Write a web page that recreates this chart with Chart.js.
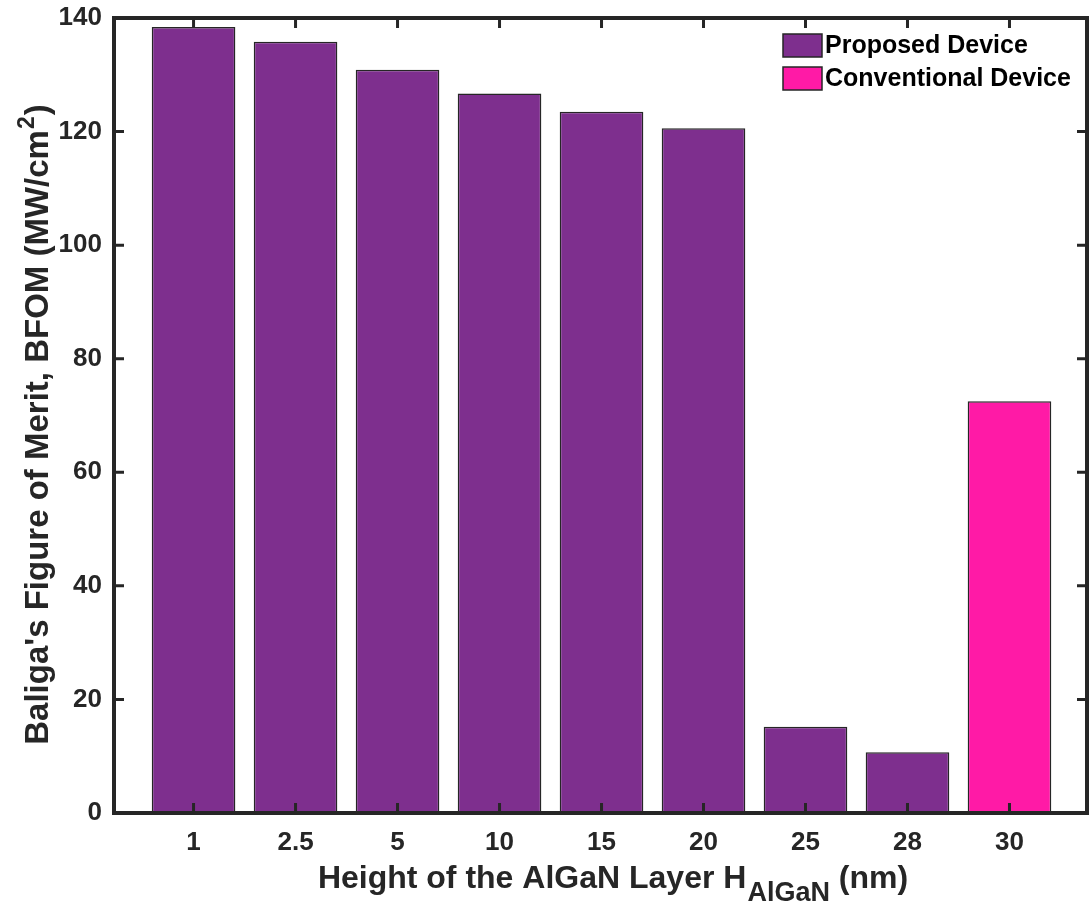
<!DOCTYPE html>
<html>
<head>
<meta charset="utf-8">
<script src="https://cdn.jsdelivr.net/npm/chart.js@4"></script>
<style>
  html, body { margin: 0; padding: 0; background: #fff; }
  canvas { display: block; }
</style>
</head>
<body>
<canvas id="bfomChart" width="1089" height="910"></canvas>
<script>
// heights of the AlGaN layer (nm), one bar each
const categories = ['1', '2.5', '5', '10', '15', '20', '25', '28', '30'];
const proposedValues = [138.4, 135.8, 130.9, 126.7, 123.5, 120.6, 15.2, 10.7];
const conventionalValues = [72.5];
const conventionalAt = ['30'];
const yTicks = [0, 20, 40, 60, 80, 100, 120, 140];

const purple = '#7E2F8E';
const pink = '#FF1AA6';
const ink = '#262626';
const font = "'Liberation Sans', Arial, Helvetica, sans-serif";

function toPoints(labels, values) {
    return values.map((v, i) => ({ x: categories.indexOf(labels[i]) + 1, y: v }));
}

// box around the axes plus inward ticks on all four sides (matlab style)
const frame = {
    id: 'frame',
    afterDatasetsDraw(chart) {
        const ctx = chart.ctx;
        const a = chart.chartArea;
        const xs = chart.scales.x, ys = chart.scales.y;
        ctx.save();
        ctx.strokeStyle = ink;
        ctx.lineWidth = 3;
        categories.forEach((c, i) => {
            const px = xs.getPixelForValue(i + 1);
            ctx.beginPath();
            ctx.moveTo(px, a.bottom); ctx.lineTo(px, a.bottom - 10);
            ctx.moveTo(px, a.top); ctx.lineTo(px, a.top + 10);
            ctx.stroke();
        });
        yTicks.forEach(v => {
            const py = ys.getPixelForValue(v);
            ctx.beginPath();
            ctx.moveTo(a.left, py); ctx.lineTo(a.left + 10, py);
            ctx.moveTo(a.right, py); ctx.lineTo(a.right - 10, py);
            ctx.stroke();
        });
        ctx.lineWidth = 4;
        ctx.strokeRect(a.left, a.top, a.right - a.left, a.bottom - a.top);
        ctx.restore();
    }
};

// legend inside the plot, top right, and axis titles with sub/superscripts
const labels = {
    id: 'labels',
    afterDraw(chart) {
        const ctx = chart.ctx;
        const a = chart.chartArea;
        ctx.save();

        // legend
        const items = chart.data.datasets;
        let ly = a.top + 16;
        const lx = a.right - 304;
        ctx.font = 'bold 25px ' + font;
        ctx.textBaseline = 'middle';
        ctx.textAlign = 'left';
        items.forEach(ds => {
            ctx.fillStyle = ds.backgroundColor;
            ctx.fillRect(lx, ly, 39, 23);
            ctx.strokeStyle = ink;
            ctx.lineWidth = 1.5;
            ctx.strokeRect(lx, ly, 39, 23);
            ctx.fillStyle = '#000';
            ctx.fillText(ds.label, lx + 42, ly + 12);
            ly += 33;
        });

        // x title
        ctx.fillStyle = ink;
        ctx.textBaseline = 'alphabetic';
        const mainF = 'bold 32px ' + font, subF = 'bold 27px ' + font;
        const p1 = 'Height of the AlGaN Layer H', p2 = 'AlGaN', p3 = ' (nm)';
        ctx.font = mainF; const w1 = ctx.measureText(p1).width, w3 = ctx.measureText(p3).width;
        ctx.font = subF; const w2 = ctx.measureText(p2).width;
        let x0 = (a.left + a.right) / 2 + 12 - (w1 + w2 + w3) / 2;
        const base = 888;
        ctx.font = mainF; ctx.fillText(p1, x0, base);
        ctx.font = subF; ctx.fillText(p2, x0 + w1 + 1, base + 13);
        ctx.font = mainF; ctx.fillText(p3, x0 + w1 + w2 + 1, base);

        // y title
        const yF = 'bold 33px ' + font;
        const q1 = "Baliga's Figure of Merit, BFOM (MW/cm", q2 = '2', q3 = ')';
        const supF = 'bold 23px ' + font;
        ctx.font = yF; const v1 = ctx.measureText(q1).width, v3 = ctx.measureText(q3).width;
        ctx.font = supF; const v2 = ctx.measureText(q2).width;
        ctx.translate(48, (a.top + a.bottom) / 2 + 10);
        ctx.rotate(-Math.PI / 2);
        let s0 = -(v1 + v2 + v3) / 2;
        ctx.font = yF; ctx.fillText(q1, s0, 0);
        ctx.font = supF; ctx.fillText(q2, s0 + v1 + 1, -14);
        ctx.font = yF; ctx.fillText(q3, s0 + v1 + v2 + 2, 0);

        ctx.restore();
    }
};

new Chart(document.getElementById('bfomChart'), {
    type: 'bar',
    data: {
        datasets: [
            {
                label: 'Proposed Device',
                data: toPoints(categories, proposedValues),
                backgroundColor: purple,
                borderColor: ink,
                borderWidth: 1.5
            },
            {
                label: 'Conventional Device',
                data: toPoints(conventionalAt, conventionalValues),
                backgroundColor: pink,
                borderColor: ink,
                borderWidth: 1.5
            }
        ]
    },
    options: {
        responsive: false,
        animation: false,
        grouped: false,
        barPercentage: 0.82,
        categoryPercentage: 1,
        layout: { padding: { top: 18, right: 2, left: 0, bottom: 0 } },
        plugins: {
            legend: { display: false },
            tooltip: { enabled: false }
        },
        scales: {
            x: {
                type: 'linear',
                offset: false,
                min: 0.22,
                max: 9.76,
                grid: { display: false, drawTicks: false, offset: false },
                border: { display: false },
                afterBuildTicks: s => { s.ticks = categories.map((c, i) => ({ value: i + 1 })); },
                afterFit: s => { s.height = 97; s.paddingLeft = 0; s.paddingRight = 0; },
                ticks: {
                    padding: 14,
                    color: ink,
                    font: { family: font, size: 26, weight: 'bold' },
                    maxRotation: 0,
                    callback: v => categories[v - 1]
                }
            },
            y: {
                min: 0,
                max: 140,
                grid: { display: false, drawTicks: false },
                border: { display: false },
                afterFit: s => { s.width = 114; s.paddingTop = 0; s.paddingBottom = 0; },
                ticks: {
                    stepSize: 20,
                    padding: 12,
                    color: ink,
                    font: { family: font, size: 26, weight: 'bold' }
                }
            }
        }
    },
    plugins: [frame, labels]
});
</script>
</body>
</html>
